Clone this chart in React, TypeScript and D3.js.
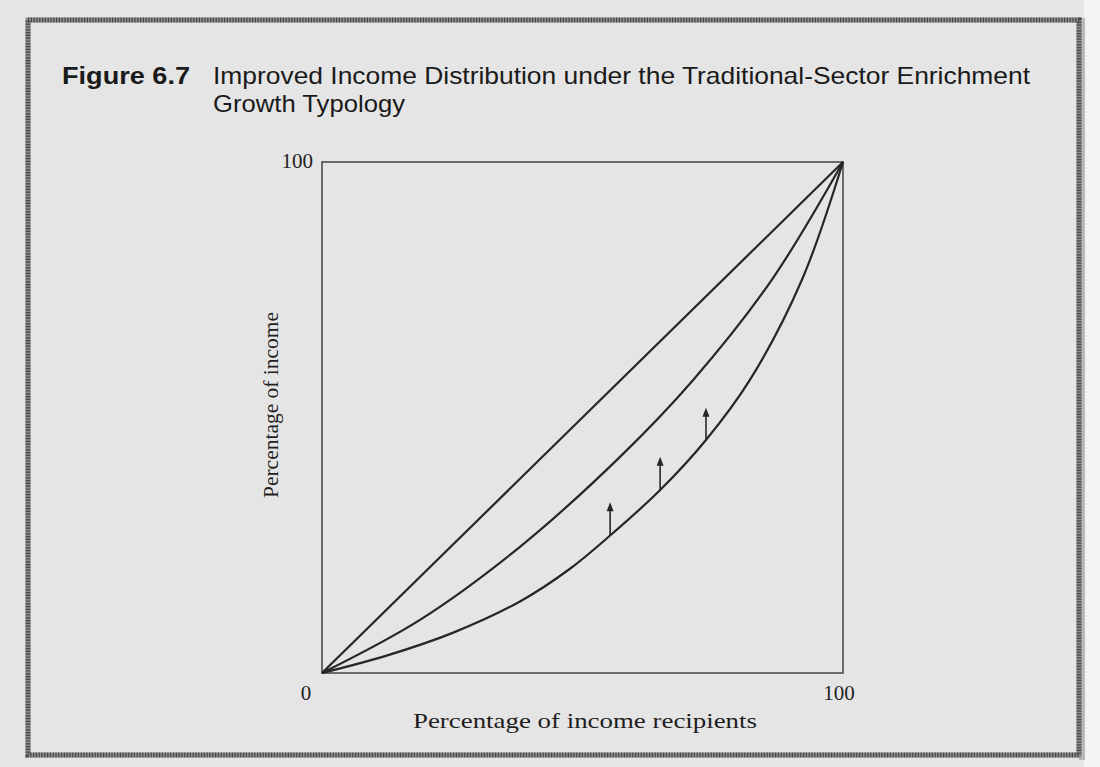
import React from "react";
import * as d3 from "d3";

// ---- data (percent units) ----
const equalityX = [0, 100];
const equalityY = [0, 100];
const improvedX = [0, 18.8, 38, 57.2, 71.2, 86.3, 100];
const improvedY = [0, 10.4, 24.7, 42.3, 57.3, 76.9, 100];
const originalX = [0, 12.4, 25.2, 38, 47.6, 55.3, 64.9, 73.7, 82.1, 92.1, 100];
const originalY = [0, 3.4, 7.9, 14.0, 20.4, 26.9, 35.8, 45.6, 57.3, 76.9, 100];
const arrowX = [55.3, 64.9, 73.7];
const arrowFromY = [26.9, 35.8, 45.6];
const arrowToY = [33.4, 42.3, 51.9];
const xTicks = [0, 100];
const yTicks = [100];
const figureLabel = "Figure 6.7";
const titleLine1 = "Improved Income Distribution under the Traditional-Sector Enrichment";
const titleLine2 = "Growth Typology";
const xAxisTitle = "Percentage of income recipients";
const yAxisTitle = "Percentage of income";

const W = 1100;
const H = 767;

export default function App() {
  const x = d3.scaleLinear().domain([0, 100]).range([322, 843]);
  const y = d3.scaleLinear().domain([0, 100]).range([673, 162]);

  const toPts = (xs: number[], ys: number[]) => xs.map((v, i) => [v, ys[i]] as [number, number]);
  const straight = d3.line<[number, number]>().x((d) => x(d[0])).y((d) => y(d[1]));
  const smooth = d3
    .line<[number, number]>()
    .x((d) => x(d[0]))
    .y((d) => y(d[1]))
    .curve(d3.curveCatmullRom.alpha(0.5));

  const serif = "'Liberation Serif', 'DejaVu Serif', serif";
  const sans = "'Liberation Sans Narrow', 'Liberation Sans', Arial, sans-serif";
  const lineColor = "#262626";

  return (
    <svg
      width={W}
      height={H}
      style={{ position: "absolute", left: 0, top: 0, display: "block" }}
    >
      {/* scanned page background */}
      <rect x={0} y={0} width={W} height={H} fill="#e5e5e5" />
      <rect x={1084} y={0} width={16} height={H} fill="#f3f3f3" />
      <rect x={1079} y={18} width={6} height={742} fill="#b9b9b9" />

      {/* hatched frame */}
      <rect x={28} y={20} width={1051} height={735} fill="none" stroke="#8a8a8a" strokeWidth={5} />
      <rect
        x={28}
        y={20}
        width={1051}
        height={735}
        fill="none"
        stroke="#4a4a4a"
        strokeWidth={5}
        strokeDasharray="1.2 1.6"
      />

      {/* title */}
      <text x={62} y={84} fontFamily={sans} fontWeight="bold" fontSize={24} fill="#1a1a1a" textLength={128} lengthAdjust="spacingAndGlyphs">
        {figureLabel}
      </text>
      <text x={213} y={84} fontFamily={sans} fontSize={24} fill="#1a1a1a" textLength={817} lengthAdjust="spacingAndGlyphs">
        {titleLine1}
      </text>
      <text x={213} y={112} fontFamily={sans} fontSize={24} fill="#1a1a1a" textLength={192} lengthAdjust="spacingAndGlyphs">
        {titleLine2}
      </text>

      {/* plot frame */}
      <rect
        x={x(0)}
        y={y(100)}
        width={x(100) - x(0)}
        height={y(0) - y(100)}
        fill="none"
        stroke="#4d4d4d"
        strokeWidth={1.6}
      />

      {/* curves */}
      <path d={straight(toPts(equalityX, equalityY)) || ""} fill="none" stroke={lineColor} strokeWidth={2.2} />
      <path d={smooth(toPts(improvedX, improvedY)) || ""} fill="none" stroke={lineColor} strokeWidth={2.2} />
      <path d={smooth(toPts(originalX, originalY)) || ""} fill="none" stroke={lineColor} strokeWidth={2.2} />

      {/* arrows */}
      {arrowX.map((v, i) => {
        const ax = x(v);
        const y0 = y(arrowFromY[i]);
        const y1 = y(arrowToY[i]);
        return (
          <g key={i}>
            <line x1={ax} y1={y0} x2={ax} y2={y1 + 6} stroke={lineColor} strokeWidth={1.6} />
            <polygon
              points={`${ax - 3.5},${y1 + 9} ${ax},${y1} ${ax + 3.5},${y1 + 9}`}
              fill={lineColor}
            />
          </g>
        );
      })}

      {/* tick labels */}
      {xTicks.map((t) => (
        <text key={"x" + t} x={t === 0 ? x(t) - 16 : x(t) - 4} y={700} textAnchor="middle" fontFamily={serif} fontSize={21} fill="#222">
          {t}
        </text>
      ))}
      {yTicks.map((t) => (
        <text key={"y" + t} x={x(0) - 9} y={y(t) + 6} textAnchor="end" fontFamily={serif} fontSize={21} fill="#222">
          {t}
        </text>
      ))}

      {/* axis titles */}
      <text x={585} y={728} textAnchor="middle" fontFamily={serif} fontSize={22} fill="#1e1e1e" textLength={344} lengthAdjust="spacingAndGlyphs">
        {xAxisTitle}
      </text>
      <text
        transform={`translate(278,405) rotate(-90)`}
        textAnchor="middle"
        fontFamily={serif}
        fontSize={22}
        fill="#1e1e1e"
        textLength={186}
        lengthAdjust="spacingAndGlyphs"
      >
        {yAxisTitle}
      </text>
    </svg>
  );
}
